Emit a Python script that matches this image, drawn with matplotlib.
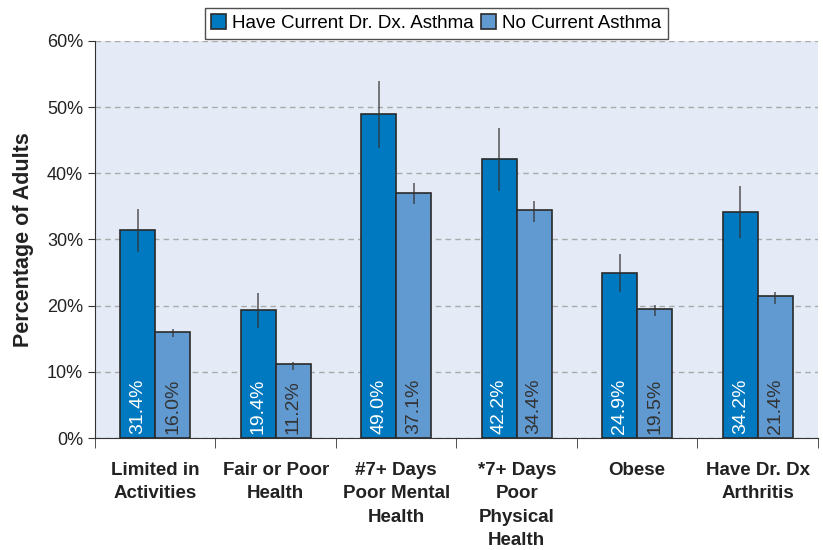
import matplotlib
matplotlib.use("Agg")
import matplotlib.pyplot as plt
import numpy as np
from matplotlib.ticker import FixedLocator, PercentFormatter

categories = ["Limited in\nActivities", "Fair or Poor\nHealth", "#7+ Days\nPoor Mental\nHealth",
              "*7+ Days\nPoor\nPhysical\nHealth", "Obese", "Have Dr. Dx\nArthritis"]
asthma = [31.4, 19.4, 49.0, 42.2, 24.9, 34.2]
asthma_lo = [28.1, 16.7, 43.9, 37.3, 22.0, 30.3]
asthma_hi = [34.6, 21.9, 53.9, 46.8, 27.8, 38.1]
no_asthma = [16.0, 11.2, 37.1, 34.4, 19.5, 21.4]
no_asthma_lo = [15.2, 10.3, 35.4, 32.7, 18.5, 20.3]
no_asthma_hi = [16.5, 11.5, 38.5, 35.8, 20.1, 22.1]

plt.rcParams['font.family'] = ['Liberation Sans', 'DejaVu Sans']

dark = '#0079C1'
light = '#6199D1'

fig = plt.figure(figsize=(8.23, 5.5), dpi=100)
ax = fig.add_axes([0.1154, 0.2036, 0.8785, 0.7219])
ax.set_facecolor('#E4EBF6')

x = np.arange(len(categories))
w = 0.29

err1 = [np.array(asthma) - np.array(asthma_lo), np.array(asthma_hi) - np.array(asthma)]
err2 = [np.array(no_asthma) - np.array(no_asthma_lo), np.array(no_asthma_hi) - np.array(no_asthma)]

ax.bar(x - w / 2, asthma, w, color=dark, edgecolor='#2a2a2a', linewidth=1.2,
       label='Have Current Dr. Dx. Asthma', zorder=3)
ax.bar(x + w / 2, no_asthma, w, color=light, edgecolor='#2a2a2a', linewidth=1.2,
       label='No Current Asthma', zorder=3)
ax.errorbar(x - w / 2, asthma, yerr=err1, fmt='none', ecolor='#333333', elinewidth=1.2,
            capsize=0, alpha=0.75, zorder=4)
ax.errorbar(x + w / 2, no_asthma, yerr=err2, fmt='none', ecolor='#333333', elinewidth=1.2,
            capsize=0, alpha=0.75, zorder=4)

for xi, v in zip(x, asthma):
    ax.text(xi - w / 2, 0.6, f"{v:.1f}%", rotation=90, ha='center', va='bottom',
            color='white', fontsize=14, zorder=5)
for xi, v in zip(x, no_asthma):
    ax.text(xi + w / 2, 0.6, f"{v:.1f}%", rotation=90, ha='center', va='bottom',
            color='#333333', fontsize=14, zorder=5)

ax.set_xlim(-0.5, len(categories) - 0.5)
ax.set_ylim(0, 60)
ax.set_yticks(np.arange(0, 61, 10))
ax.yaxis.set_major_formatter(PercentFormatter(decimals=0))
ax.grid(axis='y', color='#aaaaaa', linestyle=(0, (4, 3)), linewidth=1.0, zorder=0)

ax.set_xticks(x)
ax.set_xticklabels(categories, fontsize=13.5, fontweight='bold', color='#222222',
                   va='top', linespacing=1.5)
ax.tick_params(axis='x', which='major', length=0, pad=17)
ax.xaxis.set_minor_locator(FixedLocator(np.arange(-0.5, len(categories), 1.0)))
ax.tick_params(axis='x', which='minor', length=7, direction='out', color='#333333')
ax.tick_params(axis='y', length=5, direction='out', color='#333333', labelsize=13,
               labelcolor='#222222')

for s in ['top', 'right']:
    ax.spines[s].set_visible(False)
ax.spines['left'].set_color('#333333')
ax.spines['bottom'].set_color('#333333')

ax.set_ylabel('Percentage of Adults', fontsize=15.5, fontweight='bold', color='#222222', labelpad=9)

leg = fig.legend(loc='center', bbox_to_anchor=(0.53, 0.958), ncol=2, frameon=True,
                 fancybox=False, edgecolor='#222222', fontsize=13.5, handlelength=0.8,
                 handleheight=0.8, handletextpad=0.3, columnspacing=0.4, borderpad=0.35,
                 borderaxespad=0)
leg.get_frame().set_linewidth(1.0)

fig.savefig('out.png', dpi=100)
